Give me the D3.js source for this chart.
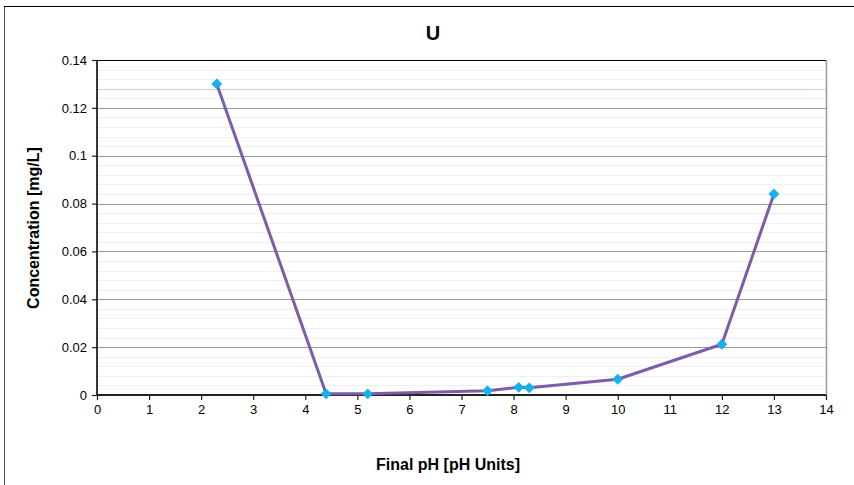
<!DOCTYPE html>
<html><head><meta charset="utf-8">
<script src="https://cdn.jsdelivr.net/npm/d3@7"></script>
<style>body{margin:0;background:#fff;font-family:"Liberation Sans",Arial,sans-serif;}</style>
</head><body><svg id="c" width="854" height="485"></svg>
<script>
const phValues = [2.3, 4.4, 5.2, 7.5, 8.1, 8.3, 10, 12, 13];
const concValues = [0.130, 0.0005, 0.0005, 0.0018, 0.0032, 0.003, 0.0066, 0.0212, 0.084];
const xTicks = [0,1,2,3,4,5,6,7,8,9,10,11,12,13,14];
const yTicks = [0,0.02,0.04,0.06,0.08,0.1,0.12,0.14];
const yTickLabels = ["0","0.02","0.04","0.06","0.08","0.1","0.12","0.14"];
const minorTicks = d3.range(0, 0.1401, 0.004);

const svg = d3.select("#c");
const m = {l:97, r:826, t:60, b:395};
const x = d3.scaleLinear().domain([0,14]).range([m.l, m.r]);
const y = d3.scaleLinear().domain([0,0.14]).range([m.b, m.t]);

// outer frame
svg.append("rect").attr("x",4.5).attr("y",6.5).attr("width",870).attr("height",500)
  .attr("fill","#fff").attr("stroke","#555").attr("stroke-width",1);
svg.append("line").attr("x1",4).attr("x2",854).attr("y1",6.5).attr("y2",6.5).attr("stroke","#000");

// minor faint stripes
svg.append("g").selectAll("line").data(minorTicks).join("line")
  .attr("x1",m.l).attr("x2",m.r).attr("y1",d=>Math.round(y(d))+0.5).attr("y2",d=>Math.round(y(d))+0.5)
  .attr("stroke",(d,i)=> i===32 ? "#c9d0e0" : "#eceff7").attr("stroke-width",1);

// major gridlines
svg.append("g").selectAll("line").data(yTicks.slice(1,-1)).join("line")
  .attr("x1",m.l).attr("x2",m.r).attr("y1",d=>Math.round(y(d))+0.5).attr("y2",d=>Math.round(y(d))+0.5)
  .attr("stroke","#9a9a9a").attr("stroke-width",1.2);

// top border and right border
svg.append("line").attr("x1",m.l).attr("x2",m.r).attr("y1",m.t+0.5).attr("y2",m.t+0.5).attr("stroke","#000").attr("stroke-width",1.2);
svg.append("line").attr("x1",m.r+0.5).attr("x2",m.r+0.5).attr("y1",m.t).attr("y2",m.b).attr("stroke","#999").attr("stroke-width",1.5);

// axes
const xAxis = d3.axisBottom(x).tickValues(xTicks).tickSize(5).tickPadding(5).tickFormat(d3.format("d"));
const yAxis = d3.axisLeft(y).tickValues(yTicks).tickSize(5).tickPadding(5).tickFormat((d,i)=>yTickLabels[i]);
const gx = svg.append("g").attr("transform",`translate(0,${m.b})`).call(xAxis);
const gy = svg.append("g").attr("transform",`translate(${m.l},0)`).call(yAxis);
[gx,gy].forEach(g=>{
  g.select(".domain").attr("stroke","#222").attr("stroke-width",1.8);
  g.selectAll(".tick line").attr("stroke","#222").attr("stroke-width",1.2);
  g.selectAll("text").attr("font-family","'Liberation Sans',Arial,sans-serif").attr("font-size",13).attr("fill","#000");
});
gy.select(".domain").attr("d",`M0,${m.b}V${m.t}`);
gx.select(".domain").attr("d",`M${m.l},0H${m.r}`);

// line
const pts = phValues.map((p,i)=>[p, concValues[i]]);
svg.append("path").datum(pts)
  .attr("d", d3.line().x(d=>x(d[0])).y(d=>y(d[1])))
  .attr("fill","none").attr("stroke","#7b5ea7").attr("stroke-width",3).attr("stroke-linejoin","round");

// markers
svg.append("g").selectAll("path").data(pts).join("path")
  .attr("transform",d=>`translate(${x(d[0])},${y(d[1])})`)
  .attr("d", d3.symbol().type(d3.symbolDiamond2).size(75))
  .attr("fill","#14b1ec");

// title & labels
svg.append("text").attr("x",433).attr("y",40).attr("text-anchor","middle")
  .attr("font-size",20).attr("font-weight","bold").attr("font-family","'Liberation Sans',Arial,sans-serif").text("U");
svg.append("text").attr("x",448).attr("y",470).attr("text-anchor","middle")
  .attr("font-size",16).attr("font-weight","bold").attr("font-family","'Liberation Sans',Arial,sans-serif").text("Final pH [pH Units]");
svg.append("text").attr("transform","translate(39,228) rotate(-90)").attr("text-anchor","middle")
  .attr("font-size",16).attr("font-weight","bold").attr("font-family","'Liberation Sans',Arial,sans-serif").text("Concentration [mg/L]");
</script></body></html>
